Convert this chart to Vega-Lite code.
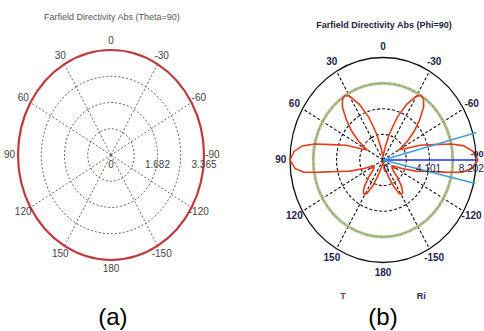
{
  "$schema": "https://vega.github.io/schema/vega-lite/v6.json",
  "padding": 0,
  "spacing": 0,
  "background": "white",
  "config": {"view": {"stroke": null}, "axis": {"disable": true}, "concat": {"spacing": 0}},
  "resolve": {"scale": {"x": "independent", "y": "independent"}},
  "datasets": {
    "rings": [
      {"r": 0.25, "a": [0, 30, 60, 90, 120, 150, 180, 210, 240, 270, 300, 330]},
      {"r": 0.5, "a": [0, 30, 60, 90, 120, 150, 180, 210, 240, 270, 300, 330]},
      {"r": 0.75, "a": [0, 30, 60, 90, 120, 150, 180, 210, 240, 270, 300, 330]},
      {"r": 1, "a": [0, 30, 60, 90, 120, 150, 180, 210, 240, 270, 300, 330]}
    ],
    "patA": [
      {"a": 0, "v": 3.365}, {"a": 30, "v": 3.365}, {"a": 60, "v": 3.365}, {"a": 90, "v": 3.365},
      {"a": 120, "v": 3.365}, {"a": 150, "v": 3.365}, {"a": 180, "v": 3.365}, {"a": 210, "v": 3.365},
      {"a": 240, "v": 3.365}, {"a": 270, "v": 3.365}, {"a": 300, "v": 3.365}, {"a": 330, "v": 3.365}
    ],
    "patB": [
      {"a": -180, "r": 0.04}, {"a": -175, "r": 0.03}, {"a": -170, "r": 0.05}, {"a": -165, "r": 0.09},
      {"a": -160, "r": 0.18}, {"a": -156, "r": 0.28}, {"a": -152, "r": 0.37}, {"a": -149, "r": 0.39},
      {"a": -146, "r": 0.38}, {"a": -142, "r": 0.32}, {"a": -137, "r": 0.22}, {"a": -132, "r": 0.14},
      {"a": -127, "r": 0.12}, {"a": -122, "r": 0.15}, {"a": -117, "r": 0.13}, {"a": -112, "r": 0.22},
      {"a": -107, "r": 0.37}, {"a": -103, "r": 0.5}, {"a": -100, "r": 0.68}, {"a": -98, "r": 0.86},
      {"a": -95, "r": 0.96}, {"a": -90, "r": 1.02}, {"a": -85, "r": 0.97}, {"a": -81, "r": 0.88},
      {"a": -78, "r": 0.75}, {"a": -75, "r": 0.58}, {"a": -70, "r": 0.42}, {"a": -65, "r": 0.26},
      {"a": -60, "r": 0.2}, {"a": -55, "r": 0.32}, {"a": -50, "r": 0.44}, {"a": -45, "r": 0.56},
      {"a": -40, "r": 0.68}, {"a": -36, "r": 0.74}, {"a": -33, "r": 0.75}, {"a": -30, "r": 0.72},
      {"a": -25, "r": 0.6}, {"a": -20, "r": 0.44}, {"a": -15, "r": 0.26}, {"a": -10, "r": 0.12},
      {"a": -5, "r": 0.05}, {"a": 0, "r": 0.06}, {"a": 5, "r": 0.05}, {"a": 10, "r": 0.12},
      {"a": 15, "r": 0.26}, {"a": 20, "r": 0.44}, {"a": 25, "r": 0.6}, {"a": 30, "r": 0.72},
      {"a": 33, "r": 0.75}, {"a": 36, "r": 0.74}, {"a": 40, "r": 0.68}, {"a": 45, "r": 0.56},
      {"a": 50, "r": 0.44}, {"a": 55, "r": 0.32}, {"a": 60, "r": 0.2}, {"a": 65, "r": 0.26},
      {"a": 70, "r": 0.42}, {"a": 75, "r": 0.58}, {"a": 78, "r": 0.75}, {"a": 81, "r": 0.88},
      {"a": 85, "r": 0.96}, {"a": 90, "r": 1.0}, {"a": 95, "r": 0.95}, {"a": 98, "r": 0.86},
      {"a": 100, "r": 0.68}, {"a": 103, "r": 0.5}, {"a": 107, "r": 0.37}, {"a": 112, "r": 0.22},
      {"a": 117, "r": 0.13}, {"a": 122, "r": 0.15}, {"a": 127, "r": 0.12}, {"a": 132, "r": 0.14},
      {"a": 137, "r": 0.22}, {"a": 142, "r": 0.32}, {"a": 146, "r": 0.38}, {"a": 149, "r": 0.39},
      {"a": 152, "r": 0.37}, {"a": 156, "r": 0.28}, {"a": 160, "r": 0.18}, {"a": 165, "r": 0.09},
      {"a": 170, "r": 0.05}, {"a": 175, "r": 0.03}, {"a": 180, "r": 0.04}
    ],
    "spokes": [
      {"a": 30}, {"a": 60}, {"a": 120}, {"a": 150}, {"a": -30}, {"a": -60}, {"a": -120}, {"a": -150}
    ],
    "angles": [
      {"t": "0", "a": 0}, {"t": "30", "a": 30}, {"t": "60", "a": 60}, {"t": "90", "a": 90},
      {"t": "120", "a": 120}, {"t": "150", "a": 150}, {"t": "180", "a": 180}, {"t": "-150", "a": -150},
      {"t": "-120", "a": -120}, {"t": "-90", "a": -90}, {"t": "-60", "a": -60}, {"t": "-30", "a": -30}
    ],
    "radA": [{"t": "0", "v": 0}, {"t": "1.682", "v": 1.682}, {"t": "3.365", "v": 3.365}],
    "radB": [{"t": "0", "v": 0}, {"t": "4.101", "v": 4.101}, {"t": "8.202", "v": 8.202}],
    "beamB": [{"a": -90, "r": 1.0, "k": "main"}, {"a": -75, "r": 1.04, "k": "3dB"}, {"a": -103, "r": 1.02, "k": "3dB"}]
  },
  "hconcat": [
    {
      "width": 242,
      "height": 331,
      "encoding": {
        "x": {"field": "x", "type": "quantitative", "axis": null, "scale": {"domain": [-1.1935, 1.4086], "nice": false, "zero": false}},
        "y": {"field": "y", "type": "quantitative", "axis": null, "scale": {"domain": [-1.676, 1.476], "nice": false, "zero": false}}
      },
      "layer": [
        {
          "data": {"name": "rings"},
          "transform": [
            {"filter": "datum.r < 1"},
            {"flatten": ["a"]},
            {"calculate": "-datum.r*sin(datum.a*PI/180)", "as": "x"},
            {"calculate": "datum.r*cos(datum.a*PI/180)", "as": "y"}
          ],
          "mark": {"type": "line", "interpolate": "cardinal-closed", "stroke": "#555", "strokeWidth": 0.9, "strokeDash": [2, 2]},
          "encoding": {"detail": {"field": "r"}, "order": {"field": "a", "type": "quantitative"}}
        },
        {
          "data": {"name": "spokes"},
          "transform": [
            {"calculate": "-sin(datum.a*PI/180)", "as": "x"},
            {"calculate": "cos(datum.a*PI/180)", "as": "y"}
          ],
          "mark": {"type": "rule", "stroke": "#555", "strokeWidth": 0.9, "strokeDash": [2, 2]},
          "encoding": {"x": {"datum": 0, "axis": null}, "y": {"datum": 0, "axis": null}, "x2": {"field": "x"}, "y2": {"field": "y"}}
        },
        {
          "data": {"values": [{}]},
          "mark": {"type": "rule", "stroke": "#7a7a7a", "strokeWidth": 1.2},
          "encoding": {"x": {"datum": 0, "axis": null}, "y": {"datum": 1, "axis": null}, "y2": {"datum": -1}}
        },
        {
          "data": {"values": [{}]},
          "mark": {"type": "rule", "stroke": "#9a9a9a", "strokeWidth": 1.2},
          "encoding": {"x": {"datum": -1, "axis": null}, "x2": {"datum": 0}, "y": {"datum": 0, "axis": null}}
        },
        {
          "data": {"name": "patA"},
          "transform": [
            {"calculate": "-(datum.v/3.365)*sin(datum.a*PI/180)", "as": "x"},
            {"calculate": "(datum.v/3.365)*cos(datum.a*PI/180)", "as": "y"}
          ],
          "mark": {"type": "line", "interpolate": "cardinal-closed", "stroke": "#c4373c", "strokeWidth": 2.2},
          "encoding": {"order": {"field": "a", "type": "quantitative"}}
        },
        {
          "data": {"values": [{}]},
          "mark": {"type": "rule", "stroke": "#2b3cc0", "strokeWidth": 2},
          "encoding": {"x": {"datum": 0, "axis": null}, "x2": {"datum": 1}, "y": {"datum": 0, "axis": null}}
        },
        {
          "data": {"name": "angles"},
          "transform": [
            {"calculate": "-1.09*sin(datum.a*PI/180)", "as": "x"},
            {"calculate": "1.09*cos(datum.a*PI/180)", "as": "y"}
          ],
          "mark": {"type": "text", "font": "Liberation Sans Narrow, Liberation Sans, sans-serif", "fontSize": 10, "color": "#444", "align": "center", "baseline": "middle"},
          "encoding": {"text": {"field": "t"}}
        },
        {
          "data": {"name": "radA"},
          "transform": [
            {"calculate": "datum.v/3.365", "as": "x"},
            {"calculate": "-0.095", "as": "y"}
          ],
          "mark": {"type": "text", "font": "Liberation Sans Narrow, Liberation Sans, sans-serif", "fontSize": 10, "color": "#444", "align": "center", "baseline": "middle"},
          "encoding": {"text": {"field": "t"}}
        },
        {
          "data": {"values": [{"t": "Farfield Directivity Abs (Theta=90)"}]},
          "transform": [
            {"calculate": "0.01", "as": "x"},
            {"calculate": "1.314", "as": "y"}
          ],
          "mark": {"type": "text", "font": "Liberation Sans Narrow, Liberation Sans, sans-serif", "fontSize": 9, "color": "#555", "align": "center", "baseline": "middle"},
          "encoding": {"text": {"field": "t"}}
        },
        {
          "data": {"values": [{"t": "(a)"}]},
          "transform": [
            {"calculate": "0.02", "as": "x"},
            {"calculate": "-1.619", "as": "y"}
          ],
          "mark": {"type": "text", "font": "Liberation Sans, Arial, sans-serif", "fontSize": 24, "color": "#000", "align": "center", "baseline": "alphabetic"},
          "encoding": {"text": {"field": "t"}}
        }
      ]
    },
    {
      "width": 242,
      "height": 331,
      "encoding": {
        "x": {"field": "x", "type": "quantitative", "axis": null, "scale": {"domain": [-1.5161, 1.086], "nice": false, "zero": false}},
        "y": {"field": "y", "type": "quantitative", "axis": null, "scale": {"domain": [-1.6683, 1.561], "nice": false, "zero": false}}
      },
      "layer": [
        {
          "data": {"name": "rings"},
          "transform": [
            {"filter": "datum.r < 1"},
            {"flatten": ["a"]},
            {"calculate": "-datum.r*sin(datum.a*PI/180)", "as": "x"},
            {"calculate": "datum.r*cos(datum.a*PI/180)", "as": "y"}
          ],
          "mark": {"type": "line", "interpolate": "cardinal-closed", "stroke": "#111", "strokeWidth": 1.1, "strokeDash": [3, 2]},
          "encoding": {"detail": {"field": "r"}, "order": {"field": "a", "type": "quantitative"}}
        },
        {
          "data": {"name": "spokes"},
          "transform": [
            {"calculate": "-sin(datum.a*PI/180)", "as": "x"},
            {"calculate": "cos(datum.a*PI/180)", "as": "y"}
          ],
          "mark": {"type": "rule", "stroke": "#111", "strokeWidth": 1.1, "strokeDash": [3, 2]},
          "encoding": {"x": {"datum": 0, "axis": null}, "y": {"datum": 0, "axis": null}, "x2": {"field": "x"}, "y2": {"field": "y"}}
        },
        {
          "data": {"name": "rings"},
          "transform": [
            {"filter": "datum.r == 1"},
            {"flatten": ["a"]},
            {"calculate": "-datum.r*sin(datum.a*PI/180)", "as": "x"},
            {"calculate": "datum.r*cos(datum.a*PI/180)", "as": "y"}
          ],
          "mark": {"type": "line", "interpolate": "cardinal-closed", "stroke": "#111", "strokeWidth": 1.3},
          "encoding": {"order": {"field": "a", "type": "quantitative"}}
        },
        {
          "data": {"name": "rings"},
          "transform": [
            {"filter": "datum.r == 0.75"},
            {"flatten": ["a"]},
            {"calculate": "-datum.r*sin(datum.a*PI/180)", "as": "x"},
            {"calculate": "datum.r*cos(datum.a*PI/180)", "as": "y"}
          ],
          "mark": {"type": "line", "interpolate": "cardinal-closed", "stroke": "#a6bb82", "strokeWidth": 3, "opacity": 0.9},
          "encoding": {"order": {"field": "a", "type": "quantitative"}}
        },
        {
          "data": {"values": [{}]},
          "mark": {"type": "rule", "stroke": "#555", "strokeWidth": 1.5},
          "encoding": {"x": {"datum": 0, "axis": null}, "y": {"datum": 1, "axis": null}, "y2": {"datum": -1}}
        },
        {
          "data": {"values": [{}]},
          "mark": {"type": "rule", "stroke": "#222", "strokeWidth": 1.2},
          "encoding": {"x": {"datum": -1, "axis": null}, "x2": {"datum": 0}, "y": {"datum": 0, "axis": null}}
        },
        {
          "data": {"name": "patB"},
          "transform": [
            {"calculate": "-datum.r*sin(datum.a*PI/180)", "as": "x"},
            {"calculate": "datum.r*cos(datum.a*PI/180)", "as": "y"}
          ],
          "mark": {"type": "line", "stroke": "#e63c1a", "strokeWidth": 1.6},
          "encoding": {"order": {"field": "a", "type": "quantitative"}}
        },
        {
          "data": {"name": "beamB"},
          "transform": [
            {"filter": "datum.k == 'main'"},
            {"calculate": "-datum.r*sin(datum.a*PI/180)", "as": "x"},
            {"calculate": "datum.r*cos(datum.a*PI/180)", "as": "y"}
          ],
          "mark": {"type": "rule", "strokeWidth": 1.6, "stroke": "#1a2eff"},
          "encoding": {"x": {"datum": 0, "axis": null}, "y": {"datum": 0, "axis": null}, "x2": {"field": "x"}, "y2": {"field": "y"}}
        },
        {
          "data": {"name": "beamB"},
          "transform": [
            {"filter": "datum.k == '3dB'"},
            {"calculate": "-datum.r*sin(datum.a*PI/180)", "as": "x"},
            {"calculate": "datum.r*cos(datum.a*PI/180)", "as": "y"}
          ],
          "mark": {"type": "rule", "strokeWidth": 1.6, "stroke": "#3ba0e6"},
          "encoding": {"x": {"datum": 0, "axis": null}, "y": {"datum": 0, "axis": null}, "x2": {"field": "x"}, "y2": {"field": "y"}}
        },
        {
          "data": {"name": "angles"},
          "transform": [
            {"filter": "datum.a != -90"},
            {"calculate": "-1.1*sin(datum.a*PI/180)", "as": "x"},
            {"calculate": "1.1*cos(datum.a*PI/180)", "as": "y"}
          ],
          "mark": {"type": "text", "font": "Liberation Sans Narrow, Liberation Sans, sans-serif", "fontSize": 10, "fontWeight": "bold", "color": "#24244a", "align": "center", "baseline": "middle"},
          "encoding": {"text": {"field": "t"}}
        },
        {
          "data": {"name": "angles"},
          "transform": [
            {"filter": "datum.a == -90"},
            {"calculate": "1.082", "as": "x"},
            {"calculate": "0.055", "as": "y"}
          ],
          "mark": {"type": "text", "font": "Liberation Sans Narrow, Liberation Sans, sans-serif", "fontSize": 9, "fontWeight": "bold", "color": "#24244a", "align": "right", "baseline": "middle"},
          "encoding": {"text": {"field": "t"}}
        },
        {
          "data": {"name": "radB"},
          "transform": [
            {"calculate": "datum.v/8.202*0.92+0.03", "as": "x"},
            {"calculate": "-0.09", "as": "y"}
          ],
          "mark": {"type": "text", "font": "Liberation Sans Narrow, Liberation Sans, sans-serif", "fontSize": 10, "color": "#24244a", "align": "center", "baseline": "middle"},
          "encoding": {"text": {"field": "t"}}
        },
        {
          "data": {"values": [{"t": "Farfield Directivity Abs (Phi=90)"}]},
          "transform": [
            {"calculate": "0.01", "as": "x"},
            {"calculate": "1.317", "as": "y"}
          ],
          "mark": {"type": "text", "font": "Liberation Sans Narrow, Liberation Sans, sans-serif", "fontSize": 9, "fontWeight": "bold", "color": "#1c1c40", "align": "center", "baseline": "middle"},
          "encoding": {"text": {"field": "t"}}
        },
        {
          "data": {"values": [{"t": "T"}]},
          "transform": [
            {"calculate": "-0.43", "as": "x"},
            {"calculate": "-1.327", "as": "y"}
          ],
          "mark": {"type": "text", "font": "Liberation Sans, sans-serif", "fontSize": 9, "fontWeight": "bold", "color": "#8b3a10", "align": "center", "baseline": "middle"},
          "encoding": {"text": {"field": "t"}}
        },
        {
          "data": {"values": [{"t": "Ri"}]},
          "transform": [
            {"calculate": "0.41", "as": "x"},
            {"calculate": "-1.327", "as": "y"}
          ],
          "mark": {"type": "text", "font": "Liberation Sans, sans-serif", "fontSize": 9, "fontWeight": "bold", "color": "#24244a", "align": "center", "baseline": "middle"},
          "encoding": {"text": {"field": "t"}}
        },
        {
          "data": {"values": [{"t": "(b)"}]},
          "transform": [
            {"calculate": "0.0", "as": "x"},
            {"calculate": "-1.61", "as": "y"}
          ],
          "mark": {"type": "text", "font": "Liberation Sans, Arial, sans-serif", "fontSize": 24, "color": "#000", "align": "center", "baseline": "alphabetic"},
          "encoding": {"text": {"field": "t"}}
        }
      ]
    }
  ]
}
